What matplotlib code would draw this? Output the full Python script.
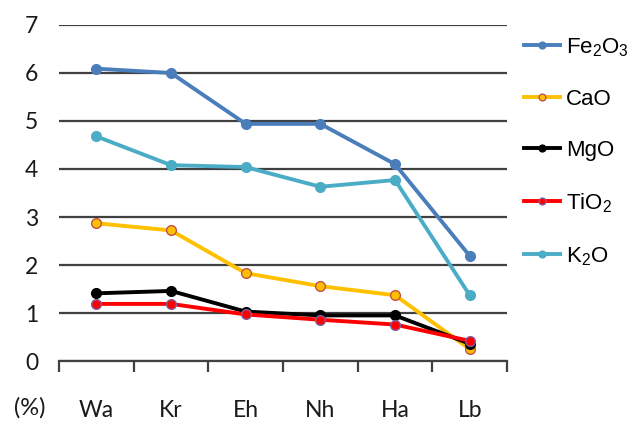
import matplotlib
matplotlib.use('Agg')
import matplotlib.pyplot as plt
import numpy as np

# Oxide contents (%) per site
sites = ['Wa', 'Kr', 'Eh', 'Nh', 'Ha', 'Lb']
fe2o3 = [6.09, 6.00, 4.94, 4.94, 4.10, 2.19]
cao = [2.87, 2.72, 1.83, 1.56, 1.37, 0.25]
mgo = [1.41, 1.46, 1.03, 0.95, 0.95, 0.36]
tio2 = [1.19, 1.19, 0.97, 0.86, 0.76, 0.42]
k2o = [4.68, 4.08, 4.04, 3.63, 3.77, 1.37]

series = [
    ('Fe$_\\mathregular{2}$O$_\\mathregular{3}$', fe2o3, '#4A7EBB', '#4A7EBB'),
    ('CaO', cao, '#FFC000', '#C0504D'),
    ('MgO', mgo, '#000000', '#000000'),
    ('TiO$_\\mathregular{2}$', tio2, '#FF0000', '#7F5FA0'),
    ('K$_\\mathregular{2}$O', k2o, '#4BACC6', '#4BACC6'),
]

plt.rcParams['mathtext.fontset'] = 'custom'
plt.rcParams['mathtext.rm'] = 'Liberation Sans'

fig = plt.figure(figsize=(6.37, 4.22), dpi=100)
ax = fig.add_axes([0.0926, 0.1445, 0.7034, 0.7963])

x = np.arange(len(sites))
for label, vals, col, edge in series:
    ax.plot(x, vals, color=col, lw=2.8, marker='o', ms=7,
            mfc=col, mec=edge, mew=1.0, label=label)

ax.set_ylim(0, 7)
ax.set_xlim(-0.5, len(sites) - 0.5)
ax.set_yticks(range(8))
ax.yaxis.grid(True, color='#404040', lw=1.6)
ax.set_axisbelow(True)
for s in ['left', 'right', 'top']:
    ax.spines[s].set_visible(False)
ax.spines['bottom'].set_color('#404040')
ax.spines['bottom'].set_linewidth(1.6)

ax.set_xticks(x)
ax.set_xticklabels(sites)
ax.set_xticks(np.arange(-0.5, len(sites)), minor=True)
ax.tick_params(axis='x', which='major', length=0, pad=28)
ax.tick_params(axis='x', which='minor', length=8, width=1.6, color='#404040')
ax.tick_params(axis='y', length=0, pad=15)
for t in ax.get_xticklabels() + ax.get_yticklabels():
    t.set_fontfamily('Lato')
    t.set_fontsize(16.5)
    t.set_color('#1a1a1a')

fig.text(30 / 637, 1 - 408 / 422, '(%)', fontfamily='Lato', fontsize=17,
         color='#1a1a1a', ha='center', va='center')

ax.legend(loc='upper left', bbox_to_anchor=(524 / 637, 1 - 36 / 422),
          bbox_transform=fig.transFigure, frameon=False,
          prop={'family': 'Liberation Sans', 'size': 16},
          handlelength=1.6, handletextpad=0.3, labelspacing=1.36,
          markerscale=0.7, borderaxespad=0, borderpad=0)

fig.savefig('out.png', dpi=100)
